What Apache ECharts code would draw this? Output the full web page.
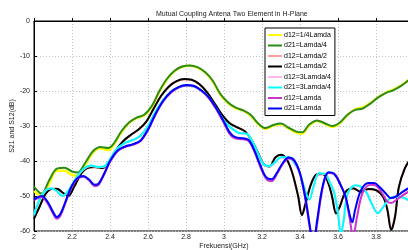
<!DOCTYPE html>
<html>
<head>
<meta charset="utf-8">
<script src="https://cdn.jsdelivr.net/npm/echarts@6/dist/echarts.min.js"></script>
<style>
  html, body { margin: 0; padding: 0; background: #fff; }
  #chart { width: 408px; height: 250px; }
</style>
</head>
<body>
<div id="chart"></div>
<script>
// frequency (GHz), coupling (dB)
const d12Quarter = [[2.00,-48.6],[2.04,-50],[2.08,-46.5],[2.12,-42.8],[2.16,-42.8],[2.20,-44],[2.23,-44.2],[2.27,-41.2],[2.31,-37.6],[2.35,-36.4],[2.39,-36.9],[2.42,-35.4],[2.46,-31.8],[2.50,-29.2],[2.54,-27.8],[2.58,-27],[2.62,-24.5],[2.66,-20.2],[2.70,-16.7],[2.74,-14.3],[2.78,-13.1],[2.82,-12.8],[2.86,-13.3],[2.90,-14.7],[2.94,-17.2],[2.98,-21],[3.02,-23.4],[3.06,-24.9],[3.10,-25.6],[3.14,-27],[3.18,-29.5],[3.22,-30.8],[3.26,-29.9],[3.30,-29.5],[3.34,-30.7],[3.38,-31.9],[3.41,-32.2],[3.45,-29.8],[3.49,-28.6],[3.53,-29.4],[3.57,-30.3],[3.61,-29.2],[3.65,-26.9],[3.69,-25.2],[3.73,-24.7],[3.77,-23.4],[3.81,-21.8],[3.85,-20.5],[3.89,-19.6],[3.93,-18.5],[3.97,-16.9],[4.00,-15.7]]
const d21Quarter = [[2.00,-47.3],[2.04,-49.3],[2.08,-45.5],[2.12,-42.2],[2.16,-41.9],[2.20,-43],[2.23,-43.3],[2.27,-40.5],[2.31,-37.2],[2.35,-36],[2.39,-36.3],[2.42,-35],[2.46,-31.5],[2.50,-29],[2.54,-27.6],[2.58,-26.8],[2.62,-24.3],[2.66,-20],[2.70,-16.5],[2.74,-14.2],[2.78,-13],[2.82,-12.7],[2.86,-13.2],[2.90,-14.6],[2.94,-17],[2.98,-20.8],[3.02,-23.2],[3.06,-24.7],[3.10,-25.5],[3.14,-26.8],[3.18,-29.3],[3.22,-30.6],[3.26,-29.7],[3.30,-29.3],[3.34,-30.5],[3.38,-31.6],[3.41,-31.8],[3.45,-29.5],[3.49,-28.4],[3.53,-29.2],[3.57,-30],[3.61,-29],[3.65,-26.8],[3.69,-25.4],[3.73,-25],[3.77,-23.6],[3.81,-21.9],[3.85,-20.6],[3.89,-19.8],[3.93,-18.6],[3.97,-17],[4.00,-15.8]]
const d12Half = [[2.00,-56.2],[2.03,-52.8],[2.06,-49.4],[2.09,-48],[2.12,-48],[2.15,-49.1],[2.18,-49.9],[2.21,-47.4],[2.25,-43.5],[2.28,-42],[2.32,-41.8],[2.36,-42.1],[2.39,-40.6],[2.43,-37.1],[2.47,-34.4],[2.51,-32.6],[2.55,-31.1],[2.59,-28.9],[2.63,-25.1],[2.67,-21.4],[2.71,-18.8],[2.75,-17.3],[2.79,-16.7],[2.83,-16.9],[2.87,-18.1],[2.91,-20.4],[2.95,-23.6],[2.99,-26.9],[3.03,-29.3],[3.07,-30.5],[3.11,-31.6],[3.15,-34.6],[3.18,-37.9],[3.21,-41],[3.24,-41.5],[3.27,-39],[3.30,-38.3],[3.33,-39.6],[3.36,-43.6],[3.39,-50],[3.41,-55],[3.43,-51.8],[3.46,-46.3],[3.49,-43.9],[3.52,-43.8],[3.55,-46.5],[3.57,-50.3],[3.59,-54.6],[3.61,-52.8],[3.64,-48.8],[3.68,-47.9],[3.72,-48.8],[3.76,-48.1],[3.80,-48.4],[3.84,-50.5],[3.86,-53.8],[3.88,-59.3],[3.90,-55.8],[3.92,-47.6],[3.95,-42.3],[3.98,-39.5]]
const d21Half = [[2.00,-56.5],[2.03,-53],[2.06,-49.5],[2.09,-48],[2.12,-47.9],[2.15,-49],[2.18,-50],[2.21,-47.5],[2.25,-43.5],[2.28,-42],[2.32,-41.7],[2.36,-42],[2.39,-40.5],[2.43,-37],[2.47,-34.3],[2.51,-32.5],[2.55,-31],[2.59,-28.8],[2.63,-25],[2.67,-21.3],[2.71,-18.7],[2.75,-17.2],[2.79,-16.6],[2.83,-16.8],[2.87,-18],[2.91,-20.3],[2.95,-23.5],[2.99,-26.8],[3.03,-29.2],[3.07,-30.4],[3.11,-31.5],[3.15,-34.5],[3.18,-37.8],[3.21,-41],[3.24,-41.6],[3.27,-39],[3.30,-38.2],[3.33,-39.5],[3.36,-43.5],[3.39,-50],[3.41,-55.5],[3.43,-52],[3.46,-46.3],[3.49,-43.8],[3.52,-43.7],[3.55,-46.5],[3.57,-50.5],[3.59,-55],[3.61,-53],[3.64,-48.8],[3.68,-47.8],[3.72,-48.8],[3.76,-48],[3.80,-48.3],[3.84,-50.5],[3.86,-54],[3.88,-59.7],[3.90,-56],[3.92,-47.5],[3.95,-42.3],[3.98,-39.5]]
const d12ThreeQuarter = [[2.00,-55.3],[2.03,-50.8],[2.06,-48.4],[2.09,-47.8],[2.12,-48.7],[2.15,-50.1],[2.18,-48.6],[2.22,-45.1],[2.26,-42.4],[2.30,-41.4],[2.34,-41.8],[2.37,-41.6],[2.40,-39.6],[2.44,-36.4],[2.48,-34.9],[2.52,-34.1],[2.56,-32.9],[2.60,-30.1],[2.64,-25.9],[2.68,-22.6],[2.72,-20.4],[2.76,-19.1],[2.80,-18.6],[2.84,-18.8],[2.88,-19.9],[2.92,-21.9],[2.96,-25.1],[3.00,-28.6],[3.04,-30.7],[3.08,-32.1],[3.12,-32.3],[3.15,-34.6],[3.18,-38.1],[3.21,-41.1],[3.24,-41.5],[3.27,-40.4],[3.30,-39],[3.34,-39],[3.37,-40.6],[3.40,-43.6],[3.43,-49],[3.45,-50.8],[3.47,-47.6],[3.50,-43.6],[3.53,-43.7],[3.56,-46.6],[3.58,-49.2],[3.60,-55],[3.615,-60.5],[3.63,-56.8],[3.65,-49.6],[3.69,-47],[3.72,-47.4],[3.75,-49.1],[3.78,-52.5],[3.81,-54.7],[3.84,-53],[3.87,-50.9],[3.90,-50.3],[3.94,-50.5],[3.98,-51.5]]
const d21ThreeQuarter = [[2.00,-55.5],[2.03,-51],[2.06,-48.5],[2.09,-47.8],[2.12,-48.6],[2.15,-50],[2.18,-48.5],[2.22,-45],[2.26,-42.3],[2.30,-41.3],[2.34,-41.7],[2.37,-41.5],[2.40,-39.5],[2.44,-36.3],[2.48,-34.8],[2.52,-34],[2.56,-32.8],[2.60,-30],[2.64,-25.8],[2.68,-22.5],[2.72,-20.3],[2.76,-19],[2.80,-18.5],[2.84,-18.7],[2.88,-19.8],[2.92,-21.8],[2.96,-25],[3.00,-28.5],[3.04,-30.6],[3.08,-32],[3.12,-32.2],[3.15,-34.5],[3.18,-38],[3.21,-41],[3.24,-41.4],[3.27,-40.3],[3.30,-38.9],[3.34,-38.9],[3.37,-40.5],[3.40,-43.5],[3.43,-49],[3.45,-51],[3.47,-47.5],[3.50,-43.5],[3.53,-43.6],[3.56,-46.5],[3.58,-49],[3.60,-55],[3.615,-61],[3.63,-57],[3.65,-49.5],[3.69,-46.9],[3.72,-47.3],[3.75,-49],[3.78,-52.5],[3.81,-54.9],[3.84,-53],[3.87,-50.8],[3.90,-50.2],[3.94,-50.4],[3.98,-51.5]]
const d12Full = [[2.00,-51.2],[2.04,-50.3],[2.07,-52],[2.10,-55],[2.12,-56.5],[2.14,-55.5],[2.17,-51.3],[2.20,-47.2],[2.23,-45],[2.26,-44.5],[2.29,-45.6],[2.32,-47.2],[2.34,-46.8],[2.37,-43.8],[2.40,-40.3],[2.44,-37.2],[2.48,-36],[2.52,-35.4],[2.56,-34.4],[2.60,-31.2],[2.64,-26.7],[2.68,-23],[2.72,-20.5],[2.76,-19],[2.80,-18.4],[2.84,-18.6],[2.88,-19.9],[2.92,-22],[2.96,-25.3],[3.00,-29.2],[3.03,-32.3],[3.06,-33.6],[3.10,-33.8],[3.13,-34.3],[3.16,-37.3],[3.19,-41.5],[3.22,-45],[3.25,-45.8],[3.28,-43.6],[3.31,-40.8],[3.34,-39.3],[3.37,-40],[3.40,-43.8],[3.43,-51.5],[3.45,-58.5],[3.47,-64.5],[3.49,-58],[3.52,-47.5],[3.55,-43.4],[3.58,-43.6],[3.61,-46.2],[3.64,-50.5],[3.66,-56],[3.68,-61.5],[3.70,-56],[3.73,-49],[3.77,-46.8],[3.80,-47],[3.83,-49],[3.86,-51.6],[3.88,-52],[3.91,-51],[3.94,-49.8],[3.98,-48.5]]
const d21Full = [[2.00,-51],[2.04,-50],[2.07,-51.5],[2.10,-54.5],[2.12,-56],[2.14,-55],[2.17,-51],[2.20,-47],[2.23,-44.8],[2.26,-44.3],[2.29,-45.3],[2.32,-46.8],[2.34,-46.5],[2.37,-43.5],[2.40,-40],[2.44,-37],[2.48,-35.8],[2.52,-35.2],[2.56,-34.2],[2.60,-31],[2.64,-26.5],[2.68,-22.8],[2.72,-20.3],[2.76,-18.9],[2.80,-18.3],[2.84,-18.5],[2.88,-19.8],[2.92,-21.8],[2.96,-25],[3.00,-28.8],[3.03,-31.8],[3.06,-33.2],[3.10,-33.5],[3.13,-34],[3.16,-37],[3.19,-41],[3.22,-44.5],[3.25,-45.2],[3.28,-43.2],[3.31,-40.5],[3.34,-39],[3.37,-39.8],[3.40,-43.5],[3.43,-51],[3.45,-58],[3.47,-64],[3.49,-57],[3.52,-47],[3.55,-43.2],[3.58,-43.7],[3.61,-46.5],[3.64,-50.2],[3.66,-55],[3.675,-57.5],[3.69,-54],[3.72,-48.5],[3.76,-46.3],[3.79,-46.3],[3.82,-47.5],[3.85,-49.2],[3.88,-50.6],[3.91,-50],[3.94,-48.8],[3.98,-47.5]]

const seriesNames = ['d12=1/4Lamda', 'd21=Lamda/4', 'd12=Lamda/2', 'd21=Lamda/2', 'd12=3Lamda/4', 'd21=3Lamda/4', 'd12=Lamda', 'd21=Lamda']
const seriesData = [d12Quarter, d21Quarter, d12Half, d21Half, d12ThreeQuarter, d21ThreeQuarter, d12Full, d21Full]
const seriesColors = ['#ffff00', '#2a8a1a', '#ff9c9c', '#000000', '#ffb8f0', '#00ffff', '#cc33cc', '#0000ff']

const font = 'Liberation Sans, Arial, sans-serif'

const chart = echarts.init(document.getElementById('chart'))
chart.setOption({
  animation: false,
  title: {
    text: 'Mutual Coupling Antena Two Element in H-Plane',
    left: 151,
    top: 6,
    textStyle: { fontSize: 7, fontWeight: 'normal', color: '#222', fontFamily: font }
  },
  legend: {
    orient: 'vertical',
    left: 265,
    top: 28,
    data: seriesNames,
    icon: 'rect',
    itemWidth: 14,
    itemHeight: 2,
    itemGap: 2.5,
    padding: [3, 4, 3, 3],
    backgroundColor: '#fff',
    borderColor: '#000',
    borderWidth: 1,
    textStyle: { fontSize: 7, lineHeight: 8, color: '#000', fontFamily: font, padding: [0, 0, 0, -3] }
  },
  grid: {
    left: 34,
    top: 21,
    width: 380,
    height: 210,
    outerBoundsMode: 'none',
    containLabel: false,
    show: true,
    borderColor: '#000',
    borderWidth: 1
  },
  xAxis: {
    type: 'value',
    min: 2,
    max: 4,
    interval: 0.2,
    name: 'Frekuensi(GHz)',
    nameLocation: 'middle',
    nameGap: 12,
    nameMoveOverlap: false,
    nameTextStyle: { fontSize: 7, color: '#222', fontFamily: font },
    axisLine: { lineStyle: { color: '#000' } },
    axisTick: { inside: true, length: 3, lineStyle: { color: '#000' } },
    axisLabel: {
      fontSize: 7, color: '#222', fontFamily: font, margin: 3,
      formatter: v => String(Number(v.toFixed(1)))
    },
    splitLine: { show: true, lineStyle: { type: [1, 2], color: '#c4c4c4' } }
  },
  yAxis: {
    type: 'value',
    min: -60,
    max: 0,
    interval: 10,
    name: 'S21 and S12(dB)',
    nameLocation: 'middle',
    nameGap: 18,
    nameMoveOverlap: false,
    nameTextStyle: { fontSize: 7, color: '#222', fontFamily: font },
    axisLine: { show: true, lineStyle: { color: '#000' } },
    axisTick: { show: true, inside: true, length: 3, lineStyle: { color: '#000' } },
    axisLabel: { fontSize: 7, color: '#222', fontFamily: font, margin: 4 },
    splitLine: { show: true, lineStyle: { type: [1, 2], color: '#c4c4c4' } }
  },
  series: seriesNames.map((name, i) => ({
    name: name,
    type: 'line',
    data: seriesData[i],
    smooth: 0.35,
    symbol: 'none',
    clip: true,
    color: seriesColors[i],
    lineStyle: { width: i === 0 ? 2.4 : 2, color: seriesColors[i] }
  }))
})
</script>
</body>
</html>
